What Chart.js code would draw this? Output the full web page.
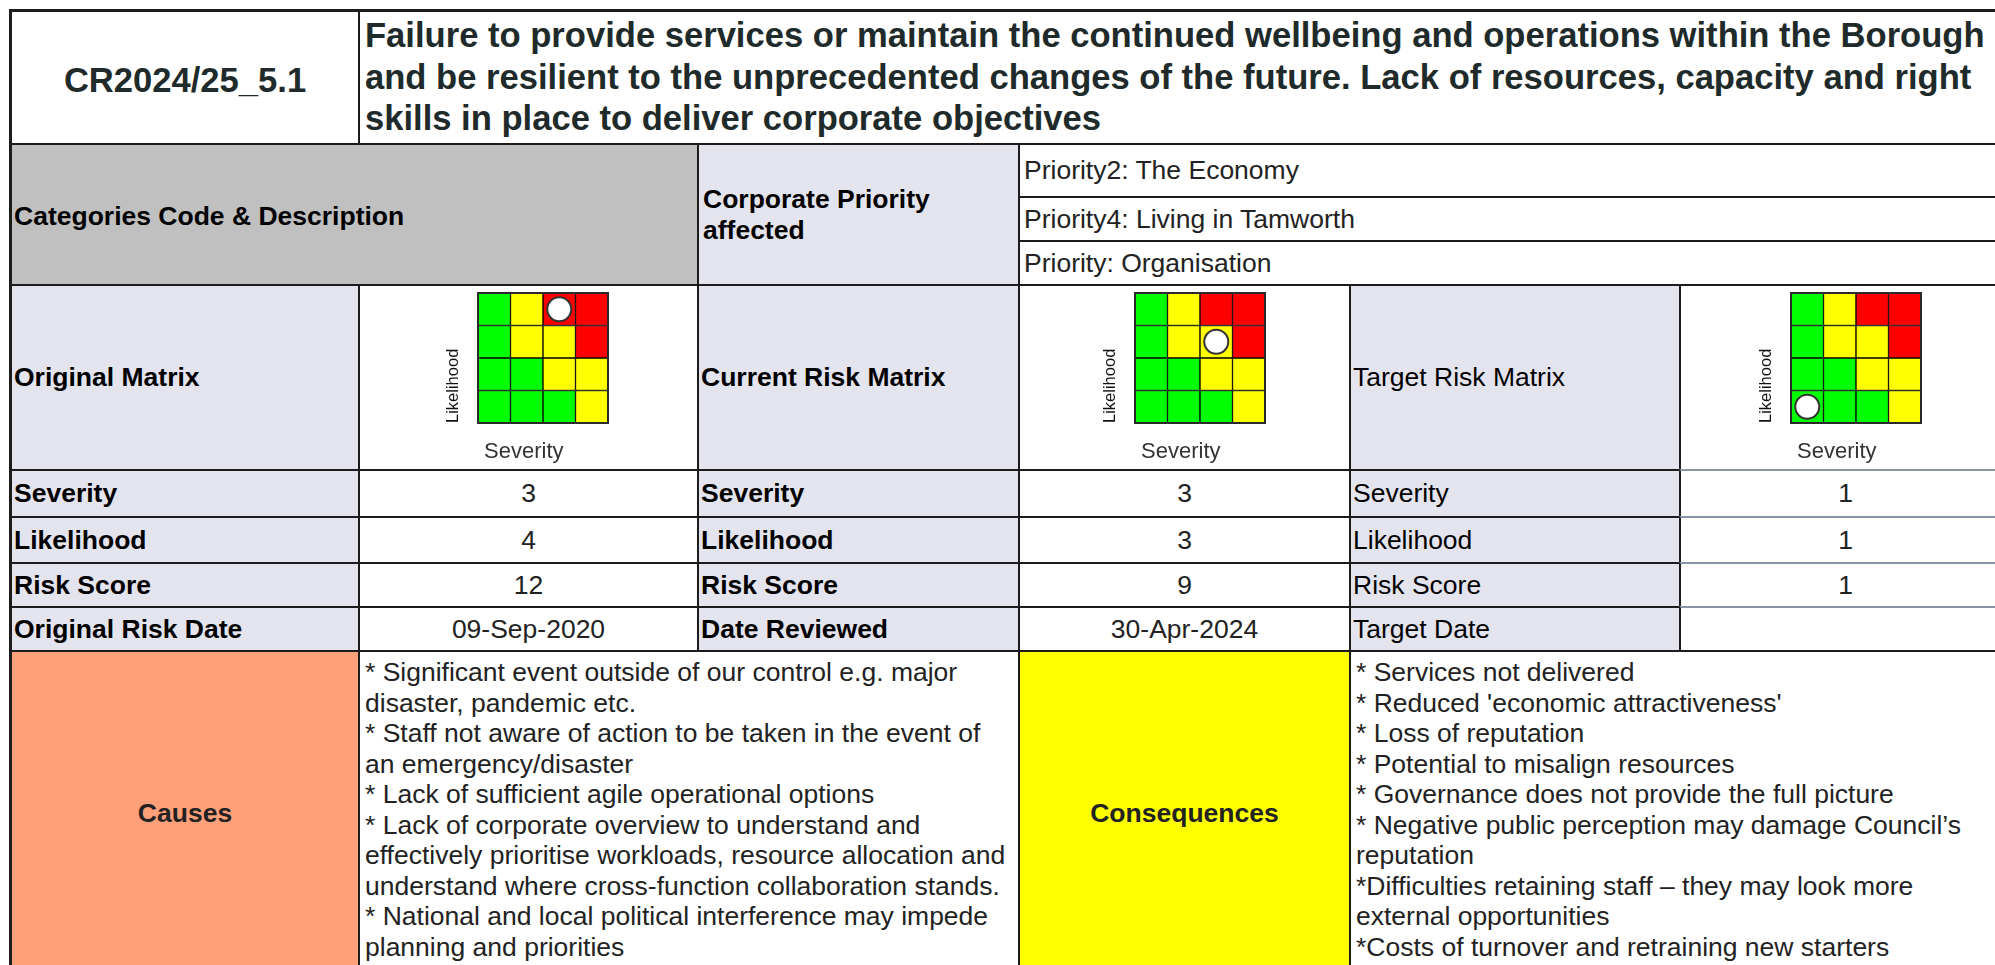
<!DOCTYPE html>
<html>
<head>
<meta charset="utf-8">
<script src="https://cdn.jsdelivr.net/npm/chart.js@4.4.1/dist/chart.umd.min.js"></script>
<style>
  html, body { margin: 0; padding: 0; background: #fff; overflow: hidden; }
  body { width: 1995px; height: 965px; position: relative; font-family: "Liberation Sans", Arial, sans-serif; }
  .cell { position: absolute; box-sizing: border-box; border: 2px solid #1c1c1c; display: flex; align-items: center;
          padding: 0 2px; font-size: 26.5px; line-height: 30.5px; color: #222; overflow: hidden; background: #fff; }
  .lab { background: #e4e4ee; color: #000; }
  .b { font-weight: bold; }
  .c { justify-content: center; text-align: center; }
  .top { align-items: flex-start; padding-top: 5px; padding-left: 5px; }
  .chartbox { position: absolute; }
  .frame { position: absolute; left: 9px; top: 9px; width: 2010px; height: 980px; border: 3px solid #1c1c1c; box-sizing: border-box; pointer-events: none; }
</style>
</head>
<body>
<script>
// ---- data ----
const riskCode = 'CR2024/25_5.1';
const riskTitle = 'Failure to provide services or maintain the continued wellbeing and operations within the Borough and be resilient to the unprecedented changes of the future. Lack of resources, capacity and right skills in place to deliver corporate objectives';
const priorities = ['Priority2: The Economy', 'Priority4: Living in Tamworth', 'Priority: Organisation'];

const severityLabels = ['1', '2', '3', '4'];
const likelihoodLevels = [1, 2, 3, 4];
// risk band of each cell, one row per likelihood (1 = bottom), columns = severity 1..4
const matrixBands = [
  ['low', 'low', 'low', 'med'],
  ['low', 'low', 'med', 'med'],
  ['low', 'med', 'med', 'high'],
  ['low', 'med', 'high', 'high']
];

const matrixNames = ['Original Matrix', 'Current Risk Matrix', 'Target Risk Matrix'];
const severityScores = [3, 3, 1];
const likelihoodScores = [4, 3, 1];
const riskScores = [12, 9, 1];
const dateNames = ['Original Risk Date', 'Date Reviewed', 'Target Date'];
const dateValues = ['09-Sep-2020', '30-Apr-2024', ''];

const causes = [
  '* Significant event outside of our control e.g. major disaster, pandemic etc.',
  '* Staff not aware of action to be taken in the event of an emergency/disaster',
  '* Lack of sufficient agile operational options',
  '* Lack of corporate overview to understand and effectively prioritise workloads, resource allocation and understand where cross-function collaboration stands.',
  '* National and local political interference may impede planning and priorities'
];
const consequences = [
  '* Services not delivered',
  "* Reduced 'economic attractiveness'",
  '* Loss of reputation',
  '* Potential to misalign resources',
  '* Governance does not provide the full picture',
  '* Negative public perception may damage Council’s reputation',
  '*Difficulties retaining staff – they may look more external opportunities',
  '*Costs of turnover and retraining new starters'
];

// ---- layout ----
const bandColours = { low: '#00ff00', med: '#ffff00', high: '#ff0000' };
const X = [10, 358, 697, 1018, 1349, 1679, 2010];
const rowY = [469, 516, 562, 606, 650];
const gridLefts = [478, 1135, 1791];

function cell(x0, y0, x1, y1, cls, html) {
  const d = document.createElement('div');
  d.className = 'cell ' + cls;
  d.style.left = x0 + 'px';
  d.style.top = y0 + 'px';
  d.style.width = (x1 - x0 + 2) + 'px';
  d.style.height = (y1 - y0 + 2) + 'px';
  const s = document.createElement('div');
  s.innerHTML = html;
  d.appendChild(s);
  document.body.appendChild(d);
  return d;
}

// title row
const codeCell = cell(X[0], 10, X[1], 143, 'b c', riskCode);
codeCell.style.fontSize = '34.6px';
codeCell.style.color = '#1f2a2a';
codeCell.style.paddingTop = '5px';
const titleCell = cell(X[1], 10, X[6], 143, 'b', riskTitle);
titleCell.style.fontSize = '34.6px';
titleCell.style.lineHeight = '41.5px';
titleCell.style.color = '#1f2a2a';
titleCell.style.paddingLeft = '5px';

// categories / priorities
const catCell = cell(X[0], 143, X[2], 284, 'lab b', 'Categories Code &amp; Description');
catCell.style.background = '#c0c0c0';
catCell.style.paddingTop = '4px';
cell(X[2], 143, X[3], 284, 'lab b', 'Corporate Priority<br>affected').style.paddingLeft = '4px';
const prY = [143, 196, 240, 284];
priorities.forEach((p, i) => {
  cell(X[3], prY[i], X[6], prY[i + 1], '', p).style.paddingLeft = '4px';
});

// matrix row and value rows
for (let m = 0; m < 3; m++) {
  const lx0 = X[m * 2], lx1 = X[m * 2 + 1], vx1 = X[m * 2 + 2];
  const bold = m < 2 ? 'b' : '';
  cell(lx0, 284, lx1, rowY[0], 'lab ' + bold, matrixNames[m]);
  cell(lx1, 284, vx1, rowY[0], '', '');
  const rows = [
    ['Severity', severityScores[m]],
    ['Likelihood', likelihoodScores[m]],
    ['Risk Score', riskScores[m]],
    [dateNames[m], dateValues[m]]
  ];
  rows.forEach((r, i) => {
    cell(lx0, rowY[i], lx1, rowY[i + 1], 'lab ' + bold, r[0]);
    const v = cell(lx1, rowY[i], vx1, rowY[i + 1], 'c', String(r[1]));
    if (m === 2) v.style.borderTopColor = '#8795a6';
  });
}

// causes / consequences
cell(X[0], 650, X[1], 975, 'b c', 'Causes').style.background = '#ffa07a';
cell(X[1], 650, X[3], 975, 'top', causes.join('<br>'));
cell(X[3], 650, X[4], 975, 'b c', 'Consequences').style.background = '#ffff00';
cell(X[4], 650, X[6], 975, 'top', consequences.join('<br>'));

// risk matrices drawn with Chart.js
const frameGrid = {
  id: 'frameGrid',
  afterDatasetsDraw(chart) {
    const a = chart.chartArea, c = chart.ctx;
    c.save();
    c.strokeStyle = '#2a2a2a';
    c.lineWidth = 2;
    c.strokeRect(a.left, a.top, a.right - a.left, a.bottom - a.top);
    c.restore();
  }
};

for (let m = 0; m < 3; m++) {
  const box = document.createElement('div');
  box.className = 'chartbox';
  box.style.left = (gridLefts[m] - 38) + 'px';
  box.style.top = '289px';
  box.style.width = '172px';
  box.style.height = '178px';
  const cv = document.createElement('canvas');
  box.appendChild(cv);
  document.body.appendChild(box);

  const cellSets = likelihoodLevels.map((lv, r) => ({
    type: 'bar',
    data: severityLabels.map(() => [lv - 1, lv]),
    backgroundColor: matrixBands[r].map(b => bandColours[b]),
    borderColor: '#000',
    borderWidth: 1,
    borderSkipped: false,
    barPercentage: 1,
    categoryPercentage: 1,
    grouped: false,
    order: 2
  }));
  const marker = {
    type: 'line',
    data: [{ x: severityLabels[severityScores[m] - 1], y: likelihoodScores[m] - 0.5 }],
    showLine: false,
    pointRadius: 12,
    pointBackgroundColor: '#fff',
    pointBorderColor: '#333',
    pointBorderWidth: 2,
    clip: false,
    order: 0
  };

  new Chart(cv, {
    type: 'bar',
    data: { labels: severityLabels, datasets: [...cellSets, marker] },
    options: {
      animation: false,
      responsive: true,
      maintainAspectRatio: false,
      events: [],
      layout: { autoPadding: false, padding: { top: 4, right: 4, left: 0, bottom: 0 } },
      plugins: { legend: { display: false }, tooltip: { enabled: false } },
      scales: {
        x: {
          grid: { display: false, drawTicks: false },
          border: { display: false },
          ticks: { display: false },
          title: { display: true, text: ' Severity', align: 'start', color: '#333',
                   font: { family: 'Liberation Sans, Arial', size: 22 }, padding: { top: 15.6, bottom: 2 } }
        },
        y: {
          min: 0,
          max: 4,
          grid: { display: false, drawTicks: false },
          border: { display: false },
          ticks: { display: false },
          title: { display: true, text: 'Likelihood', align: 'start', color: '#111',
                   font: { family: 'Liberation Sans, Arial', size: 16.5 }, padding: { top: 3.3, bottom: 14.9 } }
        }
      }
    },
    plugins: [frameGrid]
  });
}

const fr = document.createElement('div');
fr.className = 'frame';
document.body.appendChild(fr);
</script>
</body>
</html>
